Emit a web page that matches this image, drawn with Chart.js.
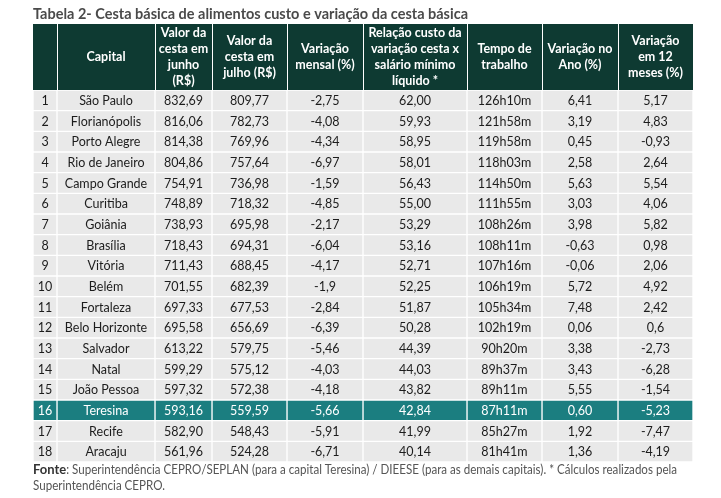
<!DOCTYPE html>
<html>
<head>
<meta charset="utf-8">
<script src="https://cdn.jsdelivr.net/npm/chart.js@4.4.0/dist/chart.umd.min.js"></script>
<style>
  body { margin: 0; background: #fff; }
</style>
</head>
<body>
<canvas id="tabela" width="721" height="498"></canvas>
<script>
// dados da tabela
const titulo = 'Tabela 2- Cesta básica de alimentos custo e variação da cesta básica';
const cabecalhos = [
  [''],
  ['Capital'],
  ['Valor da', 'cesta em', 'junho', '(R$)'],
  ['Valor da', 'cesta em', 'julho (R$)'],
  ['Variação', 'mensal (%)'],
  ['Relação custo da', 'variação cesta x', 'salário mínimo', 'líquido *'],
  ['Tempo de', 'trabalho'],
  ['Variação no', 'Ano (%)'],
  ['Variação', 'em 12', 'meses (%)']
];
const posicoes = ['1', '2', '3', '4', '5', '6', '7', '8', '9', '10', '11', '12', '13', '14', '15', '16', '17', '18'];
const capitais = ['São Paulo', 'Florianópolis', 'Porto Alegre', 'Rio de Janeiro', 'Campo Grande', 'Curitiba',
  'Goiânia', 'Brasília', 'Vitória', 'Belém', 'Fortaleza', 'Belo Horizonte', 'Salvador', 'Natal',
  'João Pessoa', 'Teresina', 'Recife', 'Aracaju'];
const valorJunho = ['832,69', '816,06', '814,38', '804,86', '754,91', '748,89', '738,93', '718,43', '711,43',
  '701,55', '697,33', '695,58', '613,22', '599,29', '597,32', '593,16', '582,90', '561,96'];
const valorJulho = ['809,77', '782,73', '769,96', '757,64', '736,98', '718,32', '695,98', '694,31', '688,45',
  '682,39', '677,53', '656,69', '579,75', '575,12', '572,38', '559,59', '548,43', '524,28'];
const varMensal = ['-2,75', '-4,08', '-4,34', '-6,97', '-1,59', '-4,85', '-2,17', '-6,04', '-4,17',
  '-1,9', '-2,84', '-6,39', '-5,46', '-4,03', '-4,18', '-5,66', '-5,91', '-6,71'];
const relacaoSalario = ['62,00', '59,93', '58,95', '58,01', '56,43', '55,00', '53,29', '53,16', '52,71',
  '52,25', '51,87', '50,28', '44,39', '44,03', '43,82', '42,84', '41,99', '40,14'];
const tempoTrabalho = ['126h10m', '121h58m', '119h58m', '118h03m', '114h50m', '111h55m', '108h26m', '108h11m',
  '107h16m', '106h19m', '105h34m', '102h19m', '90h20m', '89h37m', '89h11m', '87h11m', '85h27m', '81h41m'];
const varAno = ['6,41', '3,19', '0,45', '2,58', '5,63', '3,03', '3,98', '-0,63', '-0,06',
  '5,72', '7,48', '0,06', '3,38', '3,43', '5,55', '0,60', '1,92', '1,36'];
const var12Meses = ['5,17', '4,83', '-0,93', '2,64', '5,54', '4,06', '5,82', '0,98', '2,06',
  '4,92', '2,42', '0,6', '-2,73', '-6,28', '-1,54', '-5,23', '-7,47', '-4,19'];
const destaque = 'Teresina';
const fonteLinha1 = ': Superintendência CEPRO/SEPLAN (para a capital Teresina) / DIEESE (para as demais capitais). * Cálculos realizados pela';
const fonteLinha2 = 'Superintendência CEPRO.';

// layout
const colunas = [posicoes, capitais, valorJunho, valorJulho, varMensal, relacaoSalario, tempoTrabalho, varAno, var12Meses];
const bordas = [0, 24, 122, 179, 254, 330, 434, 509, 585, 660];
const VERDE = '#0e3a32';
const TEAL = '#1b7e80';
const CINZA = '#e9e9e9';
const FONTE = 'Lato, "Open Sans", sans-serif';
const iDestaque = capitais.indexOf(destaque);

const datasets = colunas.map((col, c) => ({
  label: cabecalhos[c].join(' '),
  textos: col,
  data: col.map(() => [bordas[c], bordas[c + 1]]),
  backgroundColor: col.map((v, r) => r === iDestaque ? TEAL : CINZA),
  borderColor: '#ffffff',
  borderWidth: 1,
  borderSkipped: false,
  grouped: false,
  barPercentage: 1,
  categoryPercentage: 1
}));

const tabelaPlugin = {
  id: 'tabela',
  afterDatasetsDraw(chart) {
    const ctx = chart.ctx;
    const xs = chart.scales.x;
    const area = chart.chartArea;
    const topo = 24;
    ctx.save();

    // titulo
    ctx.font = 'bold 15px ' + FONTE;
    ctx.fillStyle = '#4a4a4a';
    ctx.textAlign = 'left';
    ctx.textBaseline = 'alphabetic';
    ctx.fillText(titulo, area.left, 19, 435);

    // cabecalho
    ctx.fillStyle = VERDE;
    ctx.fillRect(area.left, topo, area.right - area.left, area.top - topo);
    ctx.strokeStyle = '#ffffff';
    ctx.lineWidth = 1;
    for (let c = 1; c < bordas.length - 1; c++) {
      const px = Math.round(xs.getPixelForValue(bordas[c])) + 0.5;
      ctx.beginPath();
      ctx.moveTo(px, topo);
      ctx.lineTo(px, area.top);
      ctx.stroke();
    }
    ctx.font = 'bold 12.5px ' + FONTE;
    ctx.fillStyle = '#ffffff';
    ctx.textAlign = 'center';
    ctx.textBaseline = 'middle';
    const meio = (topo + area.top) / 2;
    cabecalhos.forEach((linhas, c) => {
      const cx = (xs.getPixelForValue(bordas[c]) + xs.getPixelForValue(bordas[c + 1])) / 2;
      linhas.forEach((t, k) => {
        ctx.fillText(t, cx, meio + (k - (linhas.length - 1) / 2) * 16);
      });
    });

    // celulas
    ctx.font = '12.5px ' + FONTE;
    chart.data.datasets.forEach((ds, i) => {
      const meta = chart.getDatasetMeta(i);
      meta.data.forEach((bar, r) => {
        ctx.fillStyle = r === iDestaque ? '#ffffff' : '#1c1c1c';
        ctx.fillText(ds.textos[r], (bar.x + bar.base) / 2, bar.y + 0.5);
      });
    });

    // fonte
    ctx.textAlign = 'left';
    ctx.textBaseline = 'alphabetic';
    ctx.font = 'bold 13px ' + FONTE;
    ctx.fillStyle = '#333333';
    ctx.fillText('Fonte', area.left, 474);
    const w = ctx.measureText('Fonte').width;
    ctx.font = '13px ' + FONTE;
    ctx.fillStyle = '#555555';
    ctx.fillText(fonteLinha1, area.left + w, 474, 644 - w);
    ctx.fillText(fonteLinha2, area.left, 490, 132);
    ctx.restore();
  }
};

new Chart(document.getElementById('tabela'), {
  type: 'bar',
  data: { labels: posicoes, datasets: datasets },
  options: {
    indexAxis: 'y',
    responsive: false,
    animation: false,
    layout: { padding: { left: 33, top: 90, right: 28, bottom: 36 } },
    scales: {
      x: { type: 'linear', min: bordas[0], max: bordas[bordas.length - 1], display: false },
      y: { type: 'category', display: false, grid: { display: false } }
    },
    plugins: {
      legend: { display: false },
      tooltip: { enabled: false }
    }
  },
  plugins: [tabelaPlugin]
});
</script>
</body>
</html>
